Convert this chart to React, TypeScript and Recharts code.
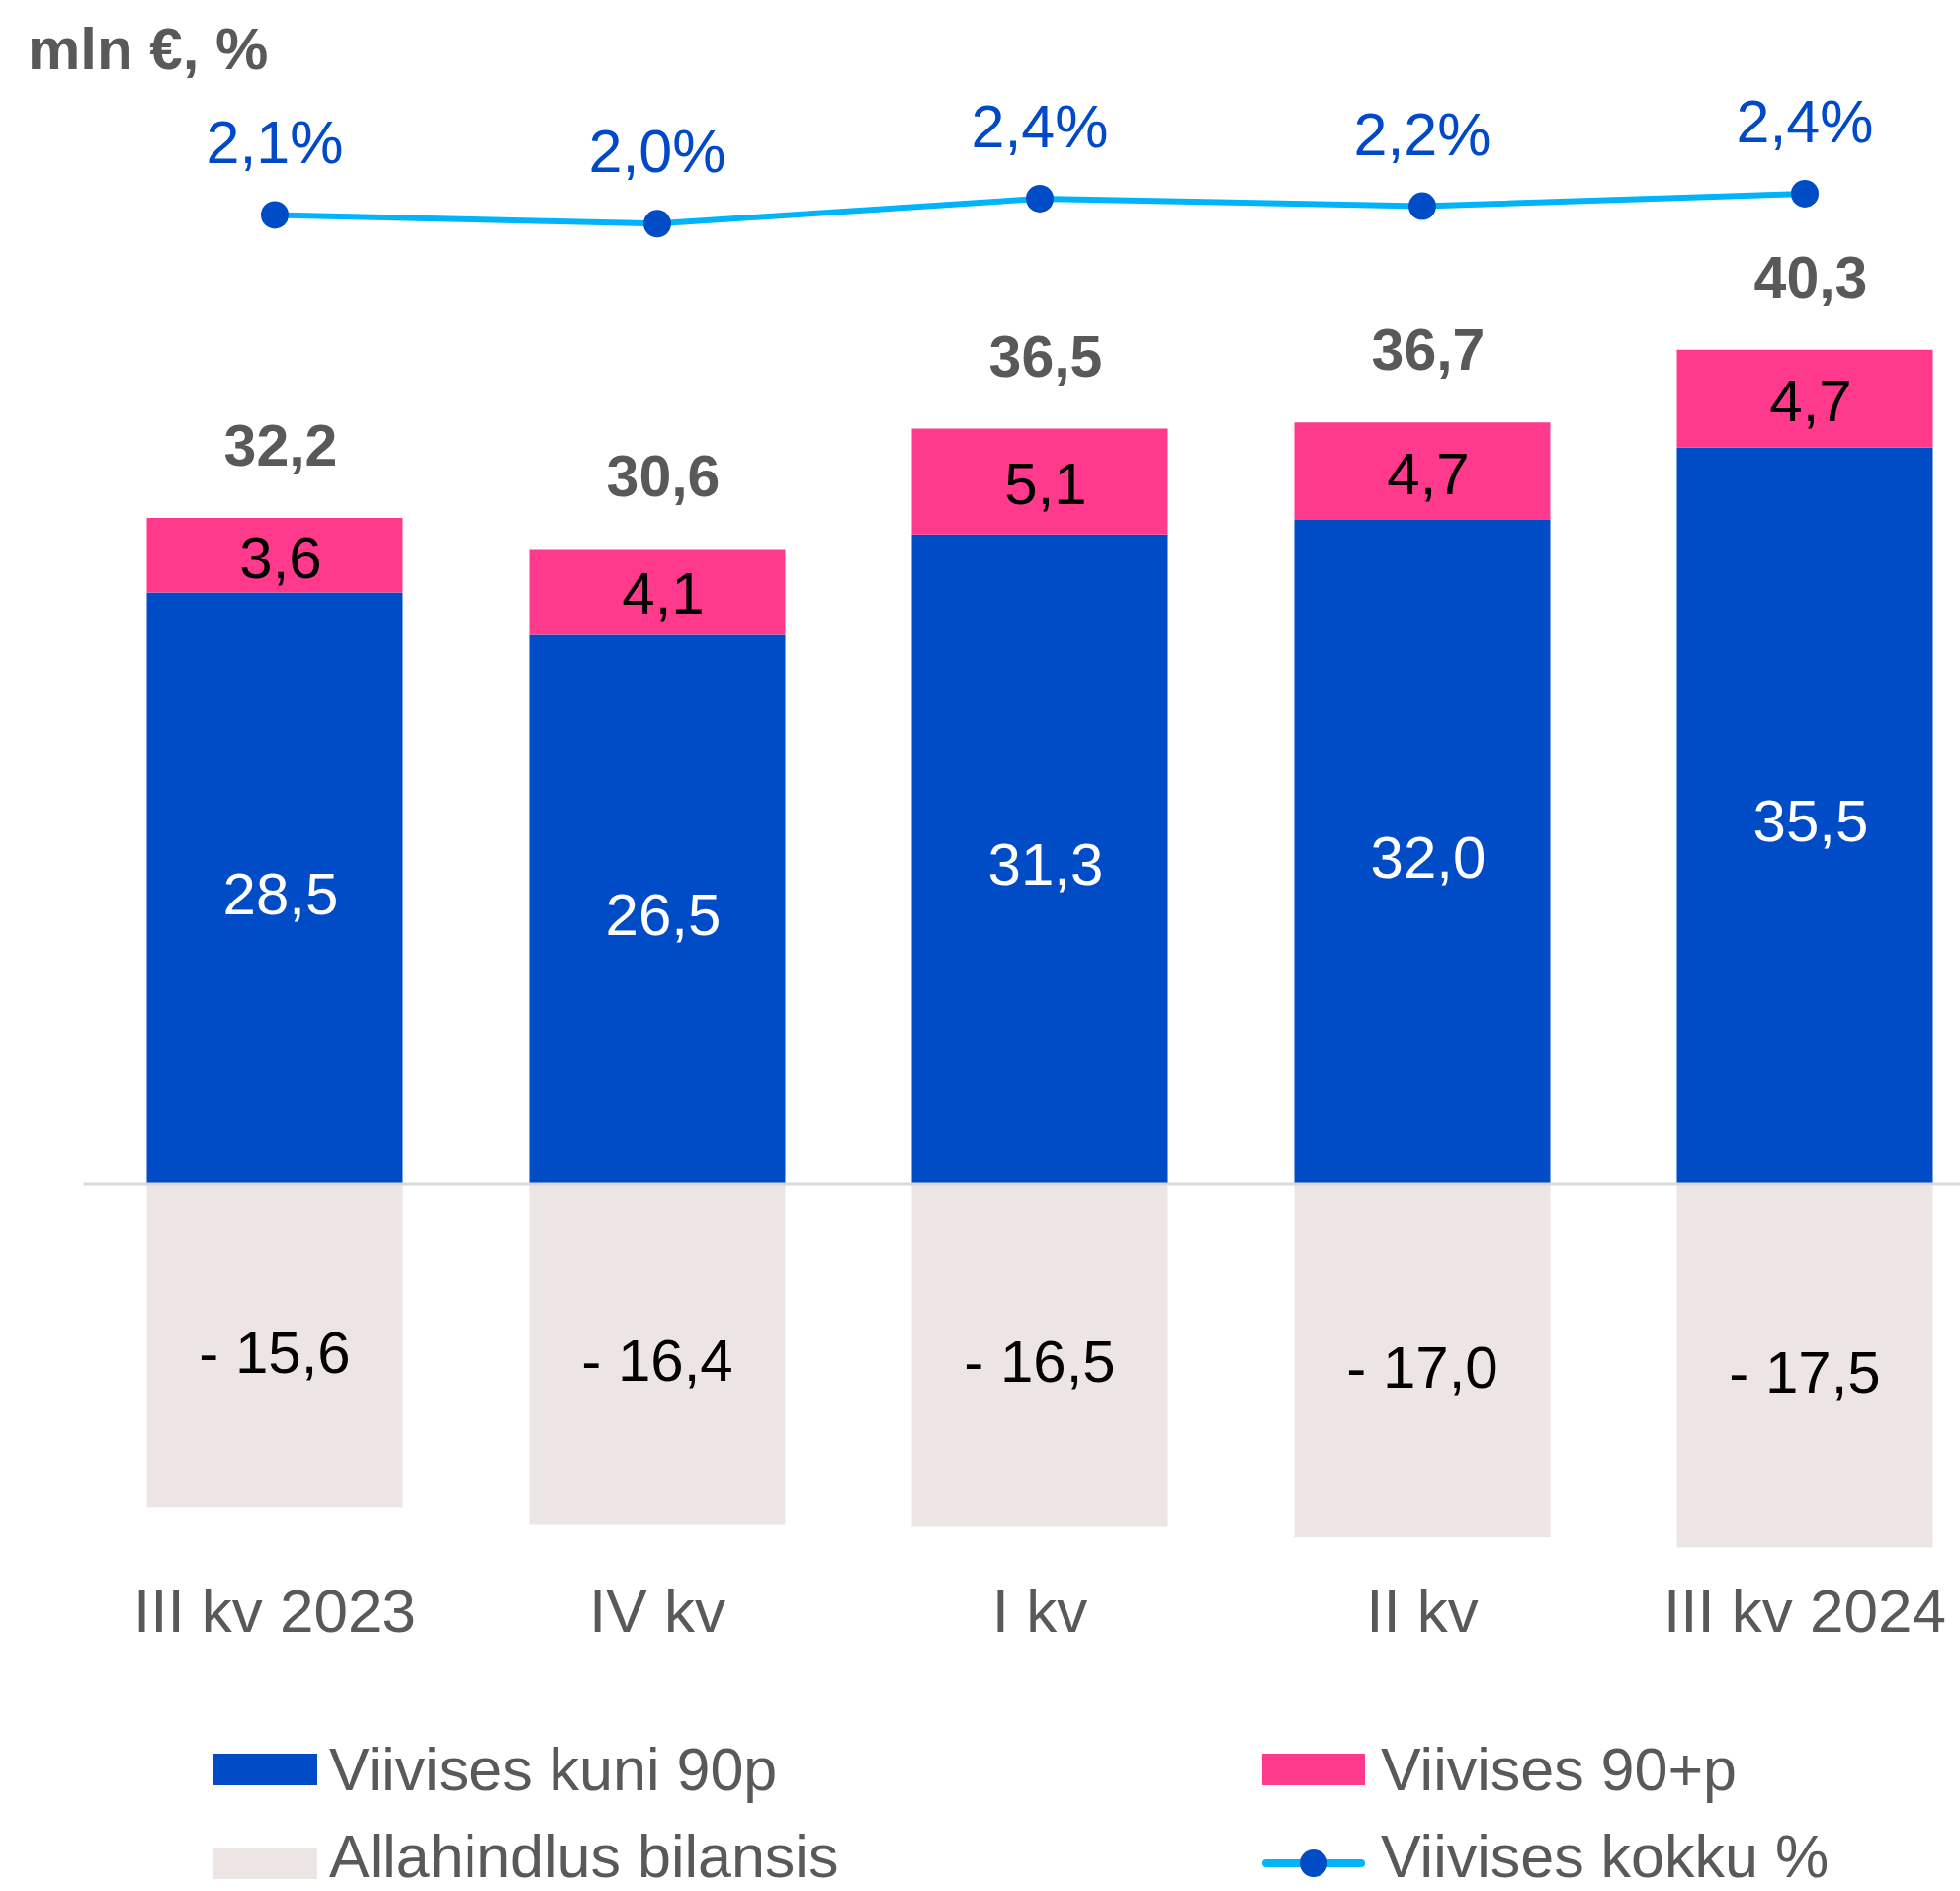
import { ComposedChart, Bar, Line, XAxis, YAxis, ReferenceLine, LabelList } from 'recharts';

const categories = ['III kv 2023', 'IV kv', 'I kv', 'II kv', 'III kv 2024'];
const upTo90 = [28.5, 26.5, 31.3, 32.0, 35.5];
const over90 = [3.6, 4.1, 5.1, 4.7, 4.7];
const totals = [32.2, 30.6, 36.5, 36.7, 40.3];
const allowance = [-15.6, -16.4, -16.5, -17.0, -17.5];
const overduePct = [2.1, 1.96, 2.36, 2.24, 2.44];

const BLUE = '#004BC6';
const PINK = '#FF3A8D';
const BEIGE = '#EDE5E4';
const CYAN = '#00B4FA';
const GRAY = '#595959';
const PCT_BLUE = '#0049C9';
const FONT = '"Liberation Sans", Arial, sans-serif';

const data = categories.map((name, i) => ({
  name,
  upTo90: upTo90[i],
  over90: over90[i],
  allowance: allowance[i],
  pct: overduePct[i],
}));

const comma = (v: number) => v.toFixed(1).replace('.', ',');

// label centred inside a bar segment
const centerLabel = (fill: string, fmt: (v: number) => string, dx = 0, dy = 0) => (props: any) => {
  const { x, y, width, height, value } = props;
  return (
    <text
      x={x + width / 2 + dx}
      y={y + height / 2}
      dy={21 + dy}
      textAnchor="middle"
      fill={fill}
      fontSize={60}
      fontFamily={FONT}
    >
      {fmt(value)}
    </text>
  );
};

const totalLabel = (props: any) => {
  const { x, y, width, index } = props;
  return (
    <text x={x + width / 2 + 6} y={y - 53} textAnchor="middle" fill={GRAY} fontSize={59} fontWeight="bold" fontFamily={FONT}>
      {comma(totals[index])}
    </text>
  );
};

const pctLabel = (props: any) => {
  const { x, y, value } = props;
  return (
    <text x={x} y={y - 52} textAnchor="middle" fill={PCT_BLUE} fontSize={61} fontFamily={FONT}>
      {comma(value)}%
    </text>
  );
};

const CategoryTick = ({ x, y, payload }: any) => (
  <text x={x} y={y} dy={75} textAnchor="middle" fill={GRAY} fontSize={62} fontFamily={FONT}>
    {payload.value}
  </text>
);

export default function App() {
  return (
    <div style={{ position: 'absolute', left: 0, top: 0, width: 1983, height: 1913, overflow: 'hidden', background: '#fff' }}>
      <ComposedChart
        width={2040}
        height={1913}
        data={data}
        stackOffset="sign"
        margin={{ top: 106, right: 20.5, left: 84.5, bottom: 277 }}
      >
        <XAxis
          dataKey="name"
          axisLine={false}
          tickLine={false}
          tickSize={0}
          tickMargin={0}
          height={60}
          interval={0}
          tick={<CategoryTick />}
        />
        <YAxis yAxisId="amt" hide domain={[-18, 52]} />
        <YAxis yAxisId="pct" hide domain={[-19.36, 3.86]} />
        <Bar yAxisId="amt" dataKey="upTo90" stackId="s" fill={BLUE} barSize={259} isAnimationActive={false}>
          <LabelList dataKey="upTo90" content={centerLabel('#ffffff', comma, 6, 5)} />
        </Bar>
        <Bar yAxisId="amt" dataKey="over90" stackId="s" fill={PINK} barSize={259} isAnimationActive={false}>
          <LabelList dataKey="over90" content={centerLabel('#000000', comma, 6, 2)} />
          <LabelList dataKey="over90" content={totalLabel} />
        </Bar>
        <Bar yAxisId="amt" dataKey="allowance" stackId="s" fill={BEIGE} barSize={259} isAnimationActive={false}>
          <LabelList dataKey="allowance" content={centerLabel('#000000', (v) => `- ${comma(-v)}`, 0, 6)} />
        </Bar>
        <ReferenceLine yAxisId="amt" y={0} stroke="#D9D9D9" strokeWidth={3} />
        <Line
          yAxisId="pct"
          dataKey="pct"
          stroke={CYAN}
          strokeWidth={6}
          dot={{ r: 14, fill: BLUE, stroke: 'none' }}
          isAnimationActive={false}
        >
          <LabelList dataKey="pct" content={pctLabel} />
        </Line>
      </ComposedChart>
      <svg width={1983} height={1913} style={{ position: 'absolute', left: 0, top: 0, pointerEvents: 'none' }} fontFamily={FONT}>
        <text x={28} y={70} fill={GRAY} fontSize={60} fontWeight="bold">
          mln €, %
        </text>
        <rect x={215} y={1774} width={106} height={32} fill={BLUE} />
        <text x={333} y={1811} fill={GRAY} fontSize={61}>Viivises kuni 90p</text>
        <rect x={1277} y={1774} width={104} height={32} fill={PINK} />
        <text x={1397} y={1811} fill={GRAY} fontSize={61}>Viivises 90+p</text>
        <rect x={215} y={1870} width={106} height={31} fill={BEIGE} />
        <text x={333} y={1899} fill={GRAY} fontSize={61}>Allahindlus bilansis</text>
        <line x1={1281} x2={1377} y1={1885} y2={1885} stroke={CYAN} strokeWidth={8} strokeLinecap="round" />
        <circle cx={1329} cy={1885} r={14} fill={BLUE} />
        <text x={1397} y={1899} fill={GRAY} fontSize={61}>Viivises kokku %</text>
      </svg>
    </div>
  );
}
